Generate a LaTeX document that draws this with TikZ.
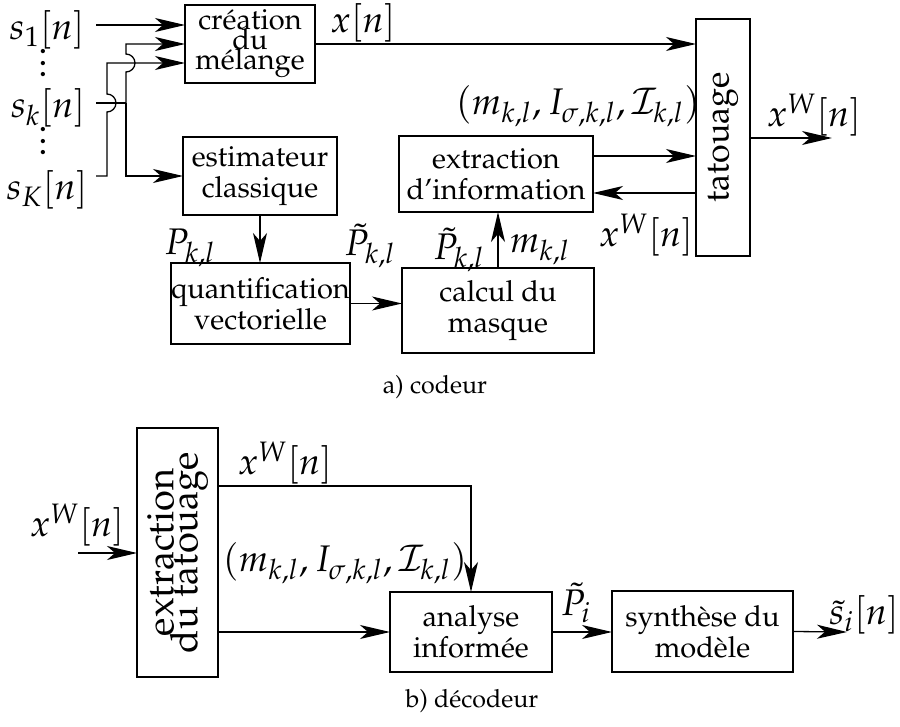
\documentclass[tikz,border=0pt]{standalone}
\usepackage[T1]{fontenc}
\usepackage{mathpazo}
\usepackage{tikz}
\usetikzlibrary{arrows.meta}
\newcommand{\tallvdots}{\vbox{\baselineskip=5.9pt\lineskiplimit=-\maxdimen\hbox{.}\hbox{.}\hbox{.}}}
\tikzset{
  wire/.style={black, line width=0.65pt},
  flow/.style={wire, -{Stealth[length=15pt,width=7pt,inset=4pt]}},
  block/.style={draw=black, line width=0.65pt, inner sep=0pt, outer sep=0pt,
                align=center, font=\fontsize{14.5}{15.5}\selectfont},
  vblock/.style={block, rotate=90},
  sig/.style={inner sep=0pt, font=\fontsize{18.5}{22}\selectfont},
  caption/.style={inner sep=0pt, font=\fontsize{12.5}{15}\selectfont},
}

\begin{document}
\begin{tikzpicture}[x=0.5pt,y=-0.5pt]
  \path[use as bounding box] (0,0) rectangle (900,727);

  % a) codeur
  \node[sig] (S1) at (47,30) {$s_1[n]$};
  \node[sig] (SK) at (48,108) {$s_k[n]$};
  \node[sig] (SKK) at (47,190) {$s_K[n]$};
  \node[sig] (D1) at (43,63) {\tallvdots};
  \node[sig] (D2) at (43,141) {\tallvdots};
  \coordinate (in1) at (96,25);
  \coordinate (ink) at (96,103);
  \coordinate (inK) at (96,176);
  \coordinate (jk) at (126,103);
  \coordinate (out1) at (832,138);

  \node[block, minimum width=65pt, minimum height=39pt] (MIX) at (250,44)
    {création\\[-5.5pt]du\\[-5.5pt]mélange};
  \node[block, minimum width=77pt, minimum height=39pt] (EST) at (260,176)
    {estimateur\\classique};
  \node[vblock, font=\fontsize{17}{20}\selectfont,
        minimum width=118.5pt, minimum height=27pt] (TAT) at (723,137.5) {tatouage};
  \node[block, minimum width=97pt, minimum height=38pt] (EXT) at (496,174)
    {extraction\\d'information};
  \node[block, minimum width=89.5pt, minimum height=40.5pt] (VQ) at (260.5,303.5)
    {quantification\\vectorielle};
  \node[block, minimum width=96pt, minimum height=42.5pt] (MASK) at (498,310.5)
    {calcul du\\masque};

  \draw[flow] (in1) -- (in1 -| MIX.west);
  \draw[wire] (ink) -- (jk);
  \draw[flow] (jk) -- (126,72) arc[start angle=-90, end angle=90, radius=4.5pt]
    -- (126,44) -- (126,44 -| MIX.west);
  \draw[flow] (jk) |- (EST.west);
  \draw[flow] (inK) -- (107,176) -- (107,112) arc[start angle=-90, end angle=90, radius=4.5pt]
    -- (107,63) -- (107,63 -| MIX.west);
  \draw[flow] (MIX.east) -- (MIX.east -| TAT.north);
  \draw[flow] (EXT.east |- 0,156) -- (TAT.north |- 0,156);
  \draw[flow] (TAT.north |- 0,193) -- (EXT.east |- 0,193);
  \draw[flow] (TAT.south |- out1) -- (out1);
  \draw[flow] (EST.south) -- (EST.south |- VQ.north);
  \draw[flow] (VQ.east) -- (VQ.east -| MASK.west);
  \draw[flow] (MASK.north) -- (MASK.north |- EXT.south);

  \node[sig] (XN) at (363,23) {$x[n]$};
  \node[sig] (XW1) at (814,115) {$x^W[n]$};
  \node[sig] (PAR1) at (578,106) {$(m_{k,l}, I_{\sigma,k,l}, \mathcal{I}_{k,l})$};
  \node[sig] (XW2) at (646,235) {$x^W[n]$};
  \node[sig] (PKL) at (190,248) {$P_{k,l}$};
  \node[sig] (PT1) at (370,246) {$\tilde{P}_{k,l}$};
  \node[sig] (PT2) at (459,250) {$\tilde{P}_{k,l}$};
  \node[sig] (MKL) at (540,250) {$m_{k,l}$};
  \node[caption] (CAPA) at (435,387) {a) codeur};

  % b) decodeur
  \coordinate (in2) at (78,553);
  \coordinate (out2) at (847,632);
  \node[vblock, font=\fontsize{19}{22}\selectfont,
        minimum width=124.5pt, minimum height=40.5pt] (EXTW) at (177.5,552.5)
    {extraction\\[-10pt]du tatouage};
  \node[block, minimum width=81pt, minimum height=40pt] (ANA) at (471,632)
    {analyse\\informée};
  \node[block, minimum width=90.5pt, minimum height=40.5pt] (SYN) at (702.5,631.5)
    {synthèse du\\modèle};

  \draw[flow] (in2) -- (in2 -| EXTW.north);
  \draw[flow] (EXTW.south |- 0,486) -| (ANA.north);
  \draw[flow] (EXTW.south |- ANA.west) -- (ANA.west);
  \draw[flow] (ANA.east) -- (ANA.east -| SYN.west);
  \draw[flow] (SYN.east) -- (out2);

  \node[sig] (XW3) at (77,525) {$x^W[n]$};
  \node[sig] (XW4) at (285,463) {$x^W[n]$};
  \node[sig] (PAR2) at (345,563) {$(m_{k,l}, I_{\sigma,k,l}, \mathcal{I}_{k,l})$};
  \node[sig] (PTI) at (576,603) {$\tilde{P}_i$};
  \node[sig] (STI) at (864,615) {$\tilde{s}_i[n]$};
  \node[caption] (CAPB) at (472,701) {b) décodeur};
\end{tikzpicture}
\end{document}
